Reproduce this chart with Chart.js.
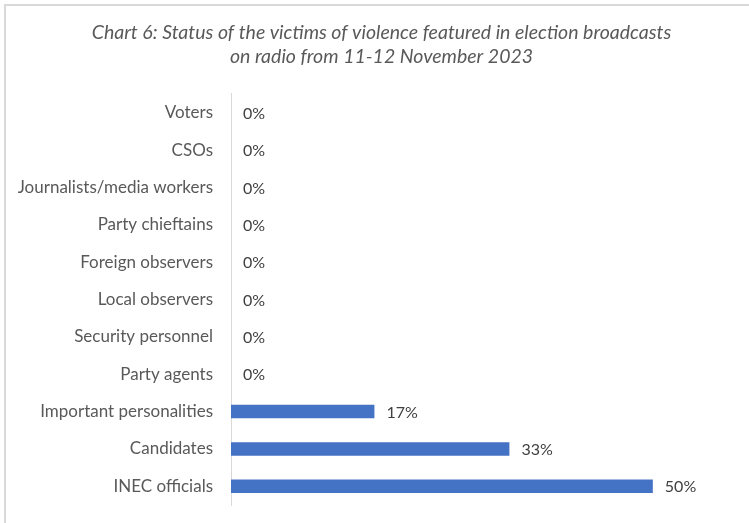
<!DOCTYPE html>
<html>
<head>
<meta charset="utf-8">
<script src="https://cdn.jsdelivr.net/npm/chart.js@4/dist/chart.umd.min.js"></script>
<style>
  html, body { margin: 0; padding: 0; background: #ffffff; }
  #wrap { width: 749px; height: 523px; position: relative; }
</style>
</head>
<body>
<div id="wrap"><canvas id="chart" width="749" height="523"></canvas></div>
<script>
// Victim categories, top to bottom
const categories = [
  'Voters',
  'CSOs',
  'Journalists/media workers',
  'Party chieftains',
  'Foreign observers',
  'Local observers',
  'Security personnel',
  'Party agents',
  'Important personalities',
  'Candidates',
  'INEC officials'
];

// Share of victims (%)
const shares = [0, 0, 0, 0, 0, 0, 0, 0, 17, 33, 50];

const titleLines = [
  'Chart 6: Status of the victims of violence featured in election broadcasts',
  'on radio from 11-12 November 2023'
];

const FONT = 'Lato, "Open Sans", sans-serif';

// Light frame around the chart
const framePlugin = {
  id: 'frame',
  beforeDraw(chart) {
    const ctx = chart.ctx;
    ctx.save();
    ctx.strokeStyle = '#d9d9d9';
    ctx.lineWidth = 2;
    ctx.beginPath();
    ctx.moveTo(5, chart.height);
    ctx.lineTo(5, 5);
    ctx.lineTo(chart.width, 5);
    ctx.stroke();
    ctx.restore();
  }
};

// Percentage labels at the end of each bar
const valueLabels = {
  id: 'valueLabels',
  afterDatasetsDraw(chart) {
    const ctx = chart.ctx;
    const meta = chart.getDatasetMeta(0);
    ctx.save();
    ctx.font = '16px ' + FONT;
    ctx.fillStyle = '#404040';
    ctx.textAlign = 'left';
    ctx.textBaseline = 'middle';
    meta.data.forEach((bar, i) => {
      ctx.fillText(shares[i] + '%', bar.x + 12, bar.y + 1);
    });
    ctx.restore();
  }
};

new Chart(document.getElementById('chart'), {
  type: 'bar',
  data: {
    labels: categories,
    datasets: [{
      data: shares,
      backgroundColor: '#4472c4',
      borderWidth: 0,
      categoryPercentage: 1,
      barPercentage: 0.36
    }]
  },
  options: {
    indexAxis: 'y',
    responsive: false,
    animation: false,
    layout: { padding: { left: 14, right: 0, top: 0, bottom: 18 } },
    plugins: {
      legend: { display: false },
      tooltip: { enabled: false },
      title: {
        display: true,
        text: titleLines,
        color: '#595959',
        font: { family: FONT, size: 19.5, style: 'italic', weight: 'normal', lineHeight: 1.23 },
        padding: { top: 21, bottom: 25 }
      }
    },
    scales: {
      x: {
        display: false,
        min: 0,
        max: 61.4
      },
      y: {
        afterFit(scale) {
          scale.width = 217;
          scale.paddingTop = 0;
          scale.paddingBottom = 0;
        },
        grid: { display: false, drawTicks: false },
        border: { display: true, color: '#d9d9d9', width: 1 },
        ticks: {
          color: '#595959',
          padding: 18,
          font: { family: FONT, size: 17 }
        }
      }
    }
  },
  plugins: [framePlugin, valueLabels]
});
</script>
</body>
</html>
